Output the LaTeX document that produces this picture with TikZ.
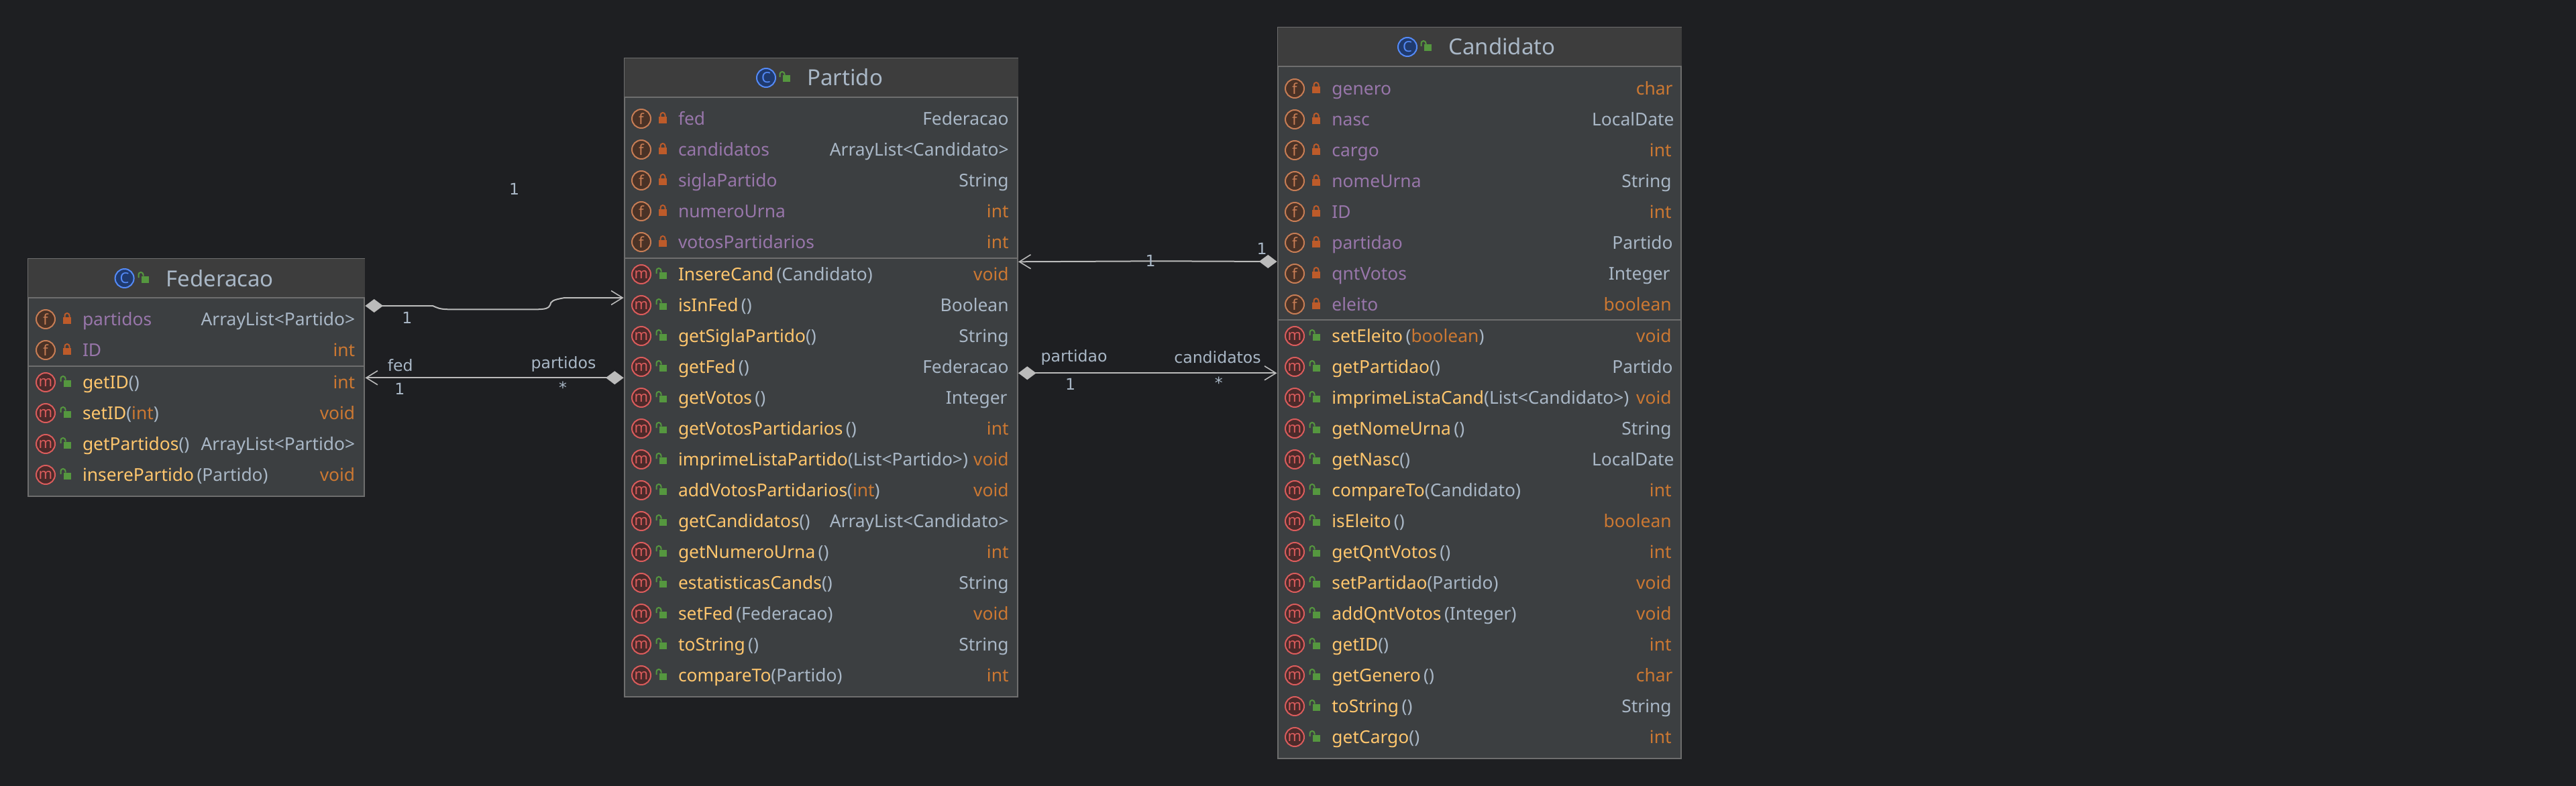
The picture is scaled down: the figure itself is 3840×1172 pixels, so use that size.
\documentclass[tikz,border=0pt]{standalone}
\usepackage{fontspec}
\setmainfont{Noto Sans}
\newfontfamily\labelfont{DejaVu Sans}
\usetikzlibrary{arrows.meta}
\definecolor{bgc}{HTML}{1E1F22}
\definecolor{boxc}{HTML}{3C3F41}
\definecolor{headc}{HTML}{3D3D3D}
\definecolor{linec}{HTML}{6E6E6E}
\definecolor{conc}{HTML}{BBBBBB}
\definecolor{cp}{HTML}{9876AA}
\definecolor{cb}{HTML}{A9B7C6}
\definecolor{cy}{HTML}{FFC66D}
\definecolor{co}{HTML}{CC7832}
\definecolor{lockr}{HTML}{BD5B2A}
\definecolor{lockg}{HTML}{55973F}
\newcommand\Y[1]{\textcolor{cy}{#1}}
\newcommand\B[1]{\textcolor{cb}{#1}}
\newcommand\Or[1]{\textcolor{co}{#1}}
\newcommand\Pu[1]{\textcolor{cp}{#1}}
\tikzset{
  umlbox/.style={draw=linec,fill=boxc,line width=1pt,inner sep=0,rectangle},
  iconbase/.style={circle,inner sep=0,minimum size=14pt,line width=1pt,font=\fontsize{11}{11}\selectfont},
  ficon/.style={iconbase,draw={rgb,255:red,199;green,125;blue,85},fill={rgb,255:red,74;green,50;blue,38},text={rgb,255:red,199;green,125;blue,85}},
  micon/.style={iconbase,draw={rgb,255:red,219;green,92;blue,92},fill={rgb,255:red,75;green,42;blue,42},text={rgb,255:red,219;green,92;blue,92}},
  cicon/.style={iconbase,draw={rgb,255:red,84;green,138;blue,247},fill={rgb,255:red,31;green,58;blue,110},text={rgb,255:red,84;green,138;blue,247}},
  rowtext/.style={inner sep=0,font=\fontsize{13.2}{13.2}\selectfont},
  titletext/.style={inner sep=0,anchor=base west,text=cb,font=\fontsize{16.5}{16.5}\selectfont},
  conlabel/.style={inner sep=0,text=cb,font=\labelfont\fontsize{11.8}{11.8}\selectfont},
  conn/.style={draw=conc,line width=1pt},
  sepline/.style={draw=linec,line width=1pt},
  barbtip/.tip={Straight Barb[length=8.5pt,width=10.5pt,line width=.8pt]},
  diamtip/.tip={Diamond[length=13.3pt,width=10pt,fill=conc,line width=0pt]},
}
% locks, relative to the icon centre
\newcommand\closedlock[2]{%
  \fill[lockr] (#1+26,#2-3) rectangle (#1+38,#2+7);
  \draw[lockr,line width=1pt] (#1+28.5,#2-3) -- (#1+28.5,#2-5.5) arc[start angle=180,end angle=0,radius=1.75pt] -- (#1+35.5,#2-3);}
\newcommand\openlock[2]{%
  \fill[lockg] (#1+27,#2-3.5) rectangle (#1+38,#2+6.5);
  \draw[lockg,line width=1pt] (#1+22.5,#2-1) -- (#1+22.5,#2-5.5) arc[start angle=180,end angle=0,radius=1.75pt] -- (#1+29.5,#2-3.5);}
% \frow[right offset]{box id}{y}{name}{type}
\newcommand\frow[5][0]{%
  \node[ficon] (#2-#3-i) at (\ix,#3) {f};
  \closedlock{\ix}{#3}
  \node[rowtext,anchor=base west,text=cp] (#2-#3-a) at (\tx,#3+9.5) {#4};
  \node[rowtext,anchor=base east] (#2-#3-b) at (\rx+#1,#3+9.5) {#5};}
\newcommand\mrow[5][0]{%
  \node[micon] (#2-#3-i) at (\ix,#3) {m};
  \openlock{\ix}{#3}
  \node[rowtext,anchor=base west] (#2-#3-a) at (\tx,#3+9.5) {#4};
  \node[rowtext,anchor=base east] (#2-#3-b) at (\rx+#1,#3+9.5) {#5};}
% \titlerow{id}{icon x}{lock x}{text x}{y}{title}
\newcommand\titlerow[6]{%
  \node[cicon] (#1-ci) at (#2,#5) {C};
  \openlock{#3-32}{#5}
  \node[titletext] (#1-title) at (#4,#5+12) {#6};}
\begin{document}
\begin{tikzpicture}[x=0.5pt,y=-0.5pt]
\useasboundingbox (0,0) rectangle (3840,1172);
\fill[bgc] (0,0) rectangle (3840,1172);

% ---------- Federacao
\node[umlbox,minimum width=250.5pt,minimum height=177.15pt] (fed) at (292.9,562.85) {};
\fill[headc] ([shift={(.5pt,-.5pt)}]fed.north west) rectangle (fed.east |- 0,444);
\draw[sepline] (fed.west |- 0,444) -- (fed.east |- 0,444);
\draw[sepline] (fed.west |- 0,546) -- (fed.east |- 0,546);
\titlerow{fed}{185.6}{216}{247}{415}{Federacao}
\def\ix{68}\def\tx{122.6}\def\rx{529.6}
\frow{fed}{476}{partidos}{\B{ArrayList<Partido>}}
\frow{fed}{522}{ID}{\Or{int}}
\mrow{fed}{570}{\Y{getID}\B{()}}{\Or{int}}
\mrow{fed}{616}{\Y{setID}\B{(}\Or{int}\B{)}}{\Or{void}}
\mrow{fed}{662}{\Y{getPartidos}\B{()}}{\B{ArrayList<Partido>}}
\mrow{fed}{708}{\Y{inserePartido}\,\B{(Partido)}}{\Or{void}}

% ---------- Partido
\node[umlbox,minimum width=293.2pt,minimum height=476.3pt] (par) at (1223.8,563) {};
\fill[headc] ([shift={(.5pt,-.5pt)}]par.north west) rectangle (par.east |- 0,145);
\draw[sepline] (par.west |- 0,145) -- (par.east |- 0,145);
\draw[sepline] (par.west |- 0,385) -- (par.east |- 0,385);
\titlerow{par}{1142}{1172}{1203}{116}{Partido}
\def\ix{956}\def\tx{1010.6}\def\rx{1504}
\frow{par}{177}{fed}{\B{Federacao}}
\frow{par}{223}{candidatos}{\B{ArrayList<Candidato>}}
\frow{par}{269}{siglaPartido}{\B{String}}
\frow{par}{315}{numeroUrna}{\Or{int}}
\frow{par}{361}{votosPartidarios}{\Or{int}}
\mrow{par}{409}{\Y{InsereCand}\,\B{(Candidato)}}{\Or{void}}
\mrow{par}{455}{\Y{isInFed}\,\B{()}}{\B{Boolean}}
\mrow{par}{501}{\Y{getSiglaPartido}\B{()}}{\B{String}}
\mrow{par}{547}{\Y{getFed}\,\B{()}}{\B{Federacao}}
\mrow[-2]{par}{593}{\Y{getVotos}\,\B{()}}{\B{Integer}}
\mrow{par}{639}{\Y{getVotosPartidarios}\,\B{()}}{\Or{int}}
\mrow{par}{685}{\Y{imprimeListaPartido}\B{(List<Partido>)}}{\Or{void}}
\mrow{par}{731}{\Y{addVotosPartidarios}\B{(}\Or{int}\B{)}}{\Or{void}}
\mrow{par}{777}{\Y{getCandidatos}\B{()}}{\B{ArrayList<Candidato>}}
\mrow{par}{823}{\Y{getNumeroUrna}\,\B{()}}{\Or{int}}
\mrow{par}{869}{\Y{estatisticasCands}\B{()}}{\B{String}}
\mrow{par}{915}{\Y{setFed}\,\B{(Federacao)}}{\Or{void}}
\mrow{par}{961}{\Y{toString}\,\B{()}}{\B{String}}
\mrow{par}{1007}{\Y{compareTo}\B{(Partido)}}{\Or{int}}

% ---------- Candidato
\node[umlbox,minimum width=300.6pt,minimum height=545.15pt] (can) at (2205.1,585.85) {};
\fill[headc] ([shift={(.5pt,-.5pt)}]can.north west) rectangle (can.east |- 0,99);
\draw[sepline] (can.west |- 0,99) -- (can.east |- 0,99);
\draw[sepline] (can.west |- 0,477) -- (can.east |- 0,477);
\titlerow{can}{2098}{2128}{2159}{70}{Candidato}
\def\ix{1930}\def\tx{1985}\def\rx{2492}
\frow[2]{can}{132}{genero}{\Or{char}}
\frow[4]{can}{178}{nasc}{\B{LocalDate}}
\frow{can}{224}{cargo}{\Or{int}}
\frow{can}{270}{nomeUrna}{\B{String}}
\frow{can}{316}{ID}{\Or{int}}
\frow[2]{can}{362}{partidao}{\B{Partido}}
\frow[-2]{can}{408}{qntVotos}{\B{Integer}}
\frow{can}{454}{eleito}{\Or{boolean}}
\mrow{can}{501}{\Y{setEleito}\,\B{(}\Or{boolean}\B{)}}{\Or{void}}
\mrow[2]{can}{547}{\Y{getPartidao}\B{()}}{\B{Partido}}
\mrow{can}{593}{\Y{imprimeListaCand}\B{(List<Candidato>)}}{\Or{void}}
\mrow{can}{639}{\Y{getNomeUrna}\,\B{()}}{\B{String}}
\mrow[4]{can}{685}{\Y{getNasc}\B{()}}{\B{LocalDate}}
\mrow{can}{731}{\Y{compareTo}\B{(Candidato)}}{\Or{int}}
\mrow{can}{777}{\Y{isEleito}\,\B{()}}{\Or{boolean}}
\mrow{can}{823}{\Y{getQntVotos}\,\B{()}}{\Or{int}}
\mrow{can}{869}{\Y{setPartidao}\B{(Partido)}}{\Or{void}}
\mrow{can}{915}{\Y{addQntVotos}\,\B{(Integer)}}{\Or{void}}
\mrow{can}{961}{\Y{getID}\B{()}}{\Or{int}}
\mrow[2]{can}{1007}{\Y{getGenero}\,\B{()}}{\Or{char}}
\mrow{can}{1053}{\Y{toString}\,\B{()}}{\B{String}}
\mrow{can}{1099}{\Y{getCargo}\B{()}}{\Or{int}}

% ---------- Connectors
\draw[conn,{diamtip}-{barbtip}] (fed.east |- 0,456)
  -- (645,456) .. controls (652,459) and (655,461) .. (668,461.3) -- (801.7,461.3)
  .. controls (812,461) and (818,460) .. (820,455) .. controls (821,449) and (824,447) .. (841.7,444)
  -- (par.west |- 0,444);
\draw[conn,{diamtip}-{barbtip}] (par.west |- 0,563.3) -- (fed.east |- 0,563.3);
\draw[conn,{diamtip}-{barbtip}] (can.west |- 0,390) -- (1726.7,389.3) -- (par.east |- 0,390.3);
\draw[conn,{diamtip}-{barbtip}] (par.east |- 0,556.3) -- (can.west |- 0,556.3);

% ---------- Connector labels
\node[conlabel] (l1) at (766.5,281.6) {1};
\node[conlabel] (l2) at (607,474) {1};
\node[conlabel] (l3) at (596.7,545) {fed};
\node[conlabel] (l4) at (596,580) {1};
\node[conlabel] (l5) at (840,543) {partidos};
\node[conlabel] (l6) at (839,578) {*};
\node[conlabel] (l7) at (1715,389) {1};
\node[conlabel] (l8) at (1881,371) {1};
\node[conlabel] (l9) at (1601,533) {partidao};
\node[conlabel] (l10) at (1815,532.7) {candidatos};
\node[conlabel] (l11) at (1595.7,573) {1};
\node[conlabel] (l12) at (1816.7,570.7) {*};
\end{tikzpicture}
\end{document}
